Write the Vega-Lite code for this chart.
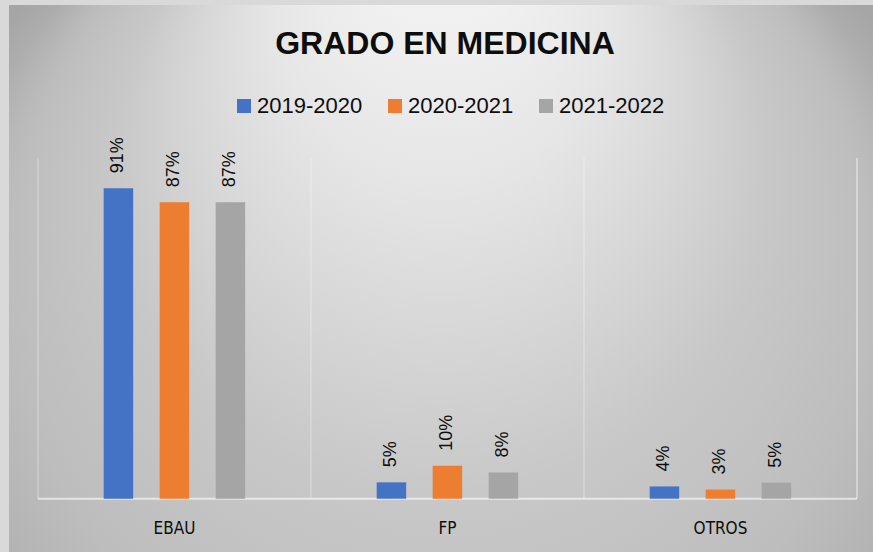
{
  "$schema": "https://vega.github.io/schema/vega-lite/v6.json",
  "width": 864,
  "height": 547,
  "autosize": {"type": "none"},
  "padding": {"left": 9, "top": 5, "right": 0, "bottom": 0},
  "background": "#d9d9d9",
  "config": {
    "view": {"stroke": null},
    "font": "Liberation Sans"
  },
  "title": {
    "text": "GRADO EN MEDICINA",
    "anchor": "middle",
    "offset": -81,
    "baseline": "alphabetic",
    "font": "Liberation Sans",
    "fontSize": 32,
    "fontWeight": "bold",
    "color": "#0d0d0d",
    "dx": 4
  },
  "data": {
    "values": [
      {"cat": "EBAU", "year": "2019-2020", "value": 0.911},
      {"cat": "EBAU", "year": "2020-2021", "value": 0.87},
      {"cat": "EBAU", "year": "2021-2022", "value": 0.87},
      {"cat": "FP", "year": "2019-2020", "value": 0.048},
      {"cat": "FP", "year": "2020-2021", "value": 0.097},
      {"cat": "FP", "year": "2021-2022", "value": 0.077},
      {"cat": "OTROS", "year": "2019-2020", "value": 0.036},
      {"cat": "OTROS", "year": "2020-2021", "value": 0.027},
      {"cat": "OTROS", "year": "2021-2022", "value": 0.047}
    ]
  },
  "layer": [
    {
      "data": {"values": [{"bg": 1}]},
      "mark": {
        "type": "rect",
        "fill": {
          "gradient": "radial",
          "x1": 0.5, "y1": 0.0, "r1": 0,
          "x2": 0.5, "y2": 0.686, "r2": 0.694,
          "stops": [
            {"offset": 0, "color": "#fcfcfc"},
            {"offset": 0.28, "color": "#e6e6e6"},
            {"offset": 0.54, "color": "#c8c8c8"},
            {"offset": 0.72, "color": "#bdbdbd"},
            {"offset": 0.87, "color": "#adadad"},
            {"offset": 1, "color": "#a6a6a6"}
          ]
        }
      },
      "encoding": {}
    },
    {
      "data": {"values": [{"cat": "EBAU"}, {"cat": "FP"}, {"cat": "OTROS"}]},
      "mark": {"type": "rule", "stroke": "#ffffff", "strokeOpacity": 0.35, "strokeWidth": 1.2},
      "encoding": {
        "x": {"field": "cat", "type": "nominal", "bandPosition": 0, "axis": null},
        "y": {"datum": 0, "type": "quantitative", "axis": null},
        "y2": {"datum": 1}
      }
    },
    {
      "data": {"values": [{"cat": "OTROS"}]},
      "mark": {"type": "rule", "stroke": "#ffffff", "strokeOpacity": 0.5, "strokeWidth": 1.5},
      "encoding": {
        "x": {"field": "cat", "type": "nominal", "bandPosition": 1, "axis": null},
        "y": {"datum": 0, "type": "quantitative", "axis": null},
        "y2": {"datum": 1}
      }
    },
    {
      "data": {"values": [{"cat": "EBAU"}, {"cat": "FP"}, {"cat": "OTROS"}]},
      "mark": {"type": "bar", "fill": "#ffffff", "fillOpacity": 0.6},
      "encoding": {
        "x": {"field": "cat", "type": "nominal", "axis": null},
        "y": {"datum": 0.003, "type": "quantitative", "axis": null},
        "y2": {"datum": -0.003}
      }
    },
    {
      "data": {"values": [{"cat": "EBAU"}, {"cat": "FP"}, {"cat": "OTROS"}]},
      "mark": {"type": "text", "align": "center", "baseline": "middle", "fontSize": 17, "color": "#0d0d0d", "font": "Liberation Sans Narrow, DejaVu Sans Condensed, Liberation Sans"},
      "encoding": {
        "x": {"field": "cat", "type": "nominal", "axis": null},
        "y": {"datum": -0.088, "type": "quantitative", "axis": null},
        "text": {"field": "cat", "type": "nominal"}
      }
    },
    {
      "mark": {"type": "bar"},
      "encoding": {
        "x": {
          "field": "cat",
          "type": "nominal",
          "scale": {"domain": ["EBAU", "FP", "OTROS"], "paddingInner": 0, "paddingOuter": 0.0824, "align": 0.644},
          "axis": null
        },
        "xOffset": {
          "field": "year",
          "type": "nominal",
          "scale": {"range": [65.7, 207.2], "paddingInner": 0.473, "paddingOuter": 0}
        },
        "y": {
          "field": "value",
          "type": "quantitative",
          "scale": {"domain": [-0.1564, 1.449], "nice": false, "zero": false},
          "axis": null
        },
        "color": {
          "field": "year",
          "type": "nominal",
          "scale": {"domain": ["2019-2020", "2020-2021", "2021-2022"], "range": ["#4472C4", "#ED7D31", "#A5A5A5"]},
          "legend": {
            "title": null,
            "orient": "none",
            "legendX": 224,
            "legendY": 90,
            "direction": "horizontal",
            "symbolType": "square",
            "symbolSize": 196,
            "symbolStrokeWidth": 0,
            "labelFont": "Liberation Sans",
            "labelFontSize": 22,
            "labelColor": "#0d0d0d",
            "labelOffset": 2,
            "columnPadding": 21,
            "labelLimit": 0
          }
        }
      }
    },
    {
      "mark": {"type": "text", "angle": 270, "align": "left", "baseline": "middle", "dx": 15, "fontSize": 18, "color": "#0d0d0d", "font": "Liberation Sans"},
      "encoding": {
        "x": {"field": "cat", "type": "nominal", "axis": null},
        "xOffset": {"field": "year", "type": "nominal"},
        "y": {"field": "value", "type": "quantitative", "axis": null},
        "text": {"field": "value", "type": "quantitative", "format": ".0%"}
      }
    }
  ]
}
